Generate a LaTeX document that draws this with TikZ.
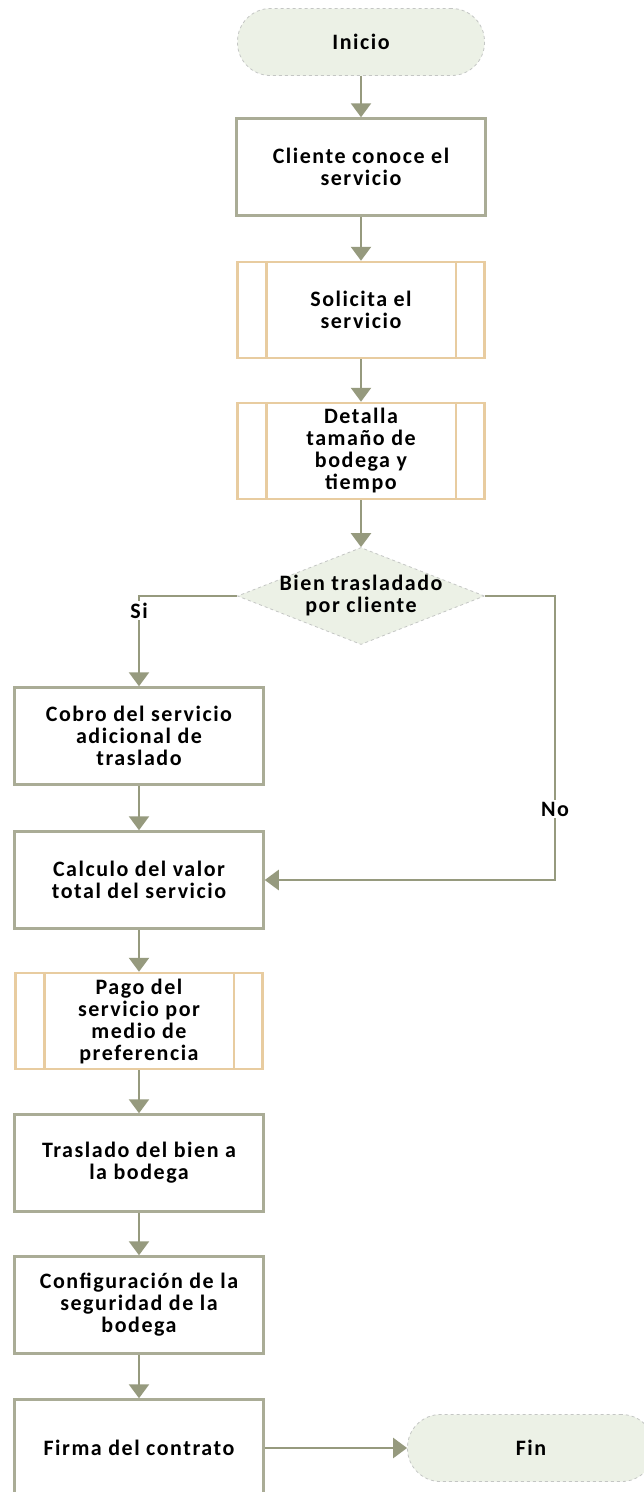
\documentclass[tikz,border=0pt]{standalone}
\usepackage{fontspec}
\setmainfont{Carlito}[LetterSpace=7]
\usetikzlibrary{shapes.geometric,arrows.meta}
\definecolor{linec}{RGB}{150,154,126}
\definecolor{procc}{RGB}{170,172,150}
\definecolor{subc}{RGB}{232,204,160}
\definecolor{termfill}{RGB}{236,241,230}
\definecolor{dashc}{RGB}{196,198,196}
\tikzset{
  txt/.style={font=\bfseries\fontsize{22}{22}\selectfont, align=center, text=black},
  proc/.style={txt, draw=procc, line width=2.5pt, fill=white, minimum width=249pt, minimum height=97pt, inner sep=0pt},
  subp/.style={txt, draw=subc, line width=2.5pt, fill=white, minimum width=247pt, minimum height=96pt, inner sep=0pt},
  term/.style={txt, draw=dashc, dashed, line width=0.8pt, fill=termfill, minimum width=247pt, minimum height=67pt, rounded corners=33pt, inner sep=0pt},
  dec/.style={diamond, draw=dashc, dashed, line width=0.8pt, fill=termfill, minimum width=247pt, minimum height=97pt, inner sep=0pt},
  arr/.style={draw=linec, line width=2.5pt, -{Triangle[length=14pt,width=20pt]}},
  lbl/.style={txt, fill=white, inner sep=1.5pt}
}
\newcommand{\subinner}[1]{%
  \draw[subc, line width=2.5pt] ([xshift=30pt]#1.north west) -- ([xshift=30pt]#1.south west);
  \draw[subc, line width=2.5pt] ([xshift=-30pt]#1.north east) -- ([xshift=-30pt]#1.south east);}
\begin{document}
\begin{tikzpicture}[x=1pt,y=-1pt]
\useasboundingbox[fill=white] (0,0) rectangle (643,1492);
\node[term] (inicio) at (361,42) {Inicio};
\node[proc] (cliente) at (361,167) {Cliente conoce el\\servicio};
\node[subp] (solicita) at (361,310) {Solicita el\\servicio};
\subinner{solicita}
\node[subp] (detalla) at (361,451) {Detalla\\tamaño de\\bodega y\\tiempo};
\subinner{detalla}
\node[dec, label={[txt]center:{Bien trasladado\\por cliente}}] (bien) at (361,596) {};
\node[proc] (cobro) at (139,736) {Cobro del servicio\\adicional de\\traslado};
\node[proc] (calculo) at (139,880) {Calculo del valor\\total del servicio};
\node[subp] (pago) at (139,1021) {Pago del\\servicio por\\medio de\\preferencia};
\subinner{pago}
\node[proc] (traslado) at (139,1163) {Traslado del bien a\\la bodega};
\node[proc] (config) at (139,1305) {Configuración de la\\seguridad de la\\bodega};
\node[proc] (firma) at (139,1448) {Firma del contrato};
\node[term] (fin) at (531,1448) {Fin};
\coordinate (nocorner) at (555,880);

\draw[arr] (inicio) -- (cliente);
\draw[arr] (cliente) -- (solicita);
\draw[arr] (solicita) -- (detalla);
\draw[arr] (detalla) -- (bien);
\draw[arr] (bien.west) -| node[lbl, pos=0.58] {Si} (cobro.north);
\draw[arr] (bien.east) -| node[lbl, pos=0.875] {No} (nocorner) -- (calculo.east);
\draw[arr] (cobro) -- (calculo);
\draw[arr] (calculo) -- (pago);
\draw[arr] (pago) -- (traslado);
\draw[arr] (traslado) -- (config);
\draw[arr] (config) -- (firma);
\draw[arr] (firma.east) -- (fin.west);
\end{tikzpicture}
\end{document}
